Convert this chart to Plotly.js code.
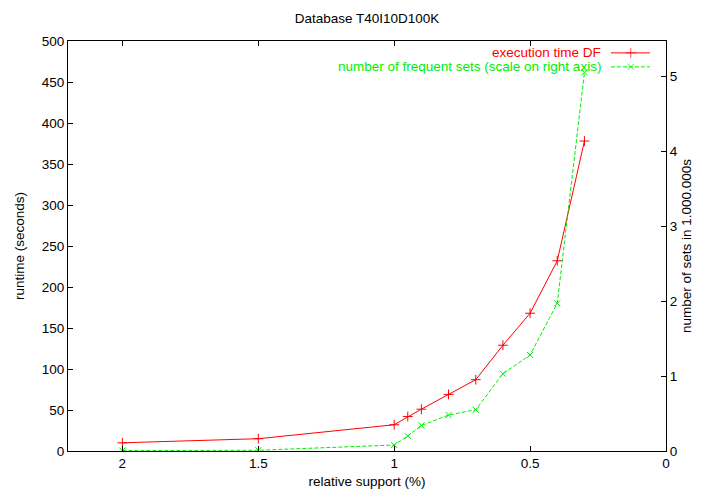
<!DOCTYPE html>
<html>
<head>
<meta charset="utf-8">
<script src="https://cdn.plot.ly/plotly-3.0.1.min.js"></script>
<style>html,body{margin:0;padding:0;background:#fff;}#chart{width:703px;height:494px;}</style>
</head>
<body>
<div id="chart"></div>
<script>
// Data
const support = [2, 1.5, 1, 0.95, 0.9, 0.8, 0.7, 0.6, 0.5, 0.4, 0.3];
const runtimeDF = [10, 15, 32, 42, 51, 69, 87, 129, 168, 232, 378];
const frequentSets = [0.005, 0.01, 0.08, 0.2, 0.34, 0.48, 0.55, 1.03, 1.28, 1.97, 5.05];
const seriesNames = ["execution time DF", "number of frequent sets (scale on right axis)"];
const xTicks = [2, 1.5, 1, 0.5, 0];
const yTicks = [0, 50, 100, 150, 200, 250, 300, 350, 400, 450, 500];
const y2Ticks = [0, 1, 2, 3, 4, 5];

// legend sample (styling) positions in the hidden overlay axes
const legendSampleX = [0.908, 0.941, 0.973];

const FONT = "Liberation Sans, Arial, Helvetica, sans-serif";
const FS = 13.5;
const RED = "#ff0000";
const GREEN = "#00ee00";

const traces = [
  {x: support, y: runtimeDF, xaxis: "x", yaxis: "y", mode: "lines+markers",
   line: {color: RED, width: 1}, marker: {symbol: "cross-thin-open", size: 7, line: {color: RED, width: 1}},
   showlegend: false, name: seriesNames[0]},
  {x: support, y: frequentSets, xaxis: "x", yaxis: "y2", mode: "lines+markers",
   line: {color: GREEN, width: 1, dash: "4px,2px"}, marker: {symbol: "x-thin-open", size: 6, line: {color: GREEN, width: 1}},
   showlegend: false, name: seriesNames[1]},
  // legend samples
  {x: legendSampleX, y: [0.971, 0.971, 0.971], xaxis: "x2", yaxis: "y3", mode: "lines+markers",
   line: {color: RED, width: 1}, marker: {symbol: "cross-thin-open", size: [0, 7, 0], line: {color: RED, width: 1}},
   showlegend: false, hoverinfo: "skip"},
  {x: legendSampleX, y: [0.937, 0.937, 0.937], xaxis: "x2", yaxis: "y3", mode: "lines+markers",
   line: {color: GREEN, width: 1, dash: "4px,2px"}, marker: {symbol: "x-thin-open", size: [0, 6, 0], line: {color: GREEN, width: 1}},
   showlegend: false, hoverinfo: "skip"}
];

const layout = {
  width: 703, height: 494,
  margin: {l: 68, r: 37, t: 41, b: 43},
  paper_bgcolor: "#fff", plot_bgcolor: "#fff",
  font: {family: FONT, size: FS, color: "#000"},
  showlegend: false,
  title: {text: "Database T40I10D100K", font: {family: FONT, size: FS, color: "#000"},
          xref: "paper", x: 0.5, xanchor: "center", yref: "container", y: 1 - 18/494, yanchor: "middle"},
  xaxis: {range: [2.2, 0], tickvals: xTicks, ticktext: xTicks.map(String),
          showgrid: false, zeroline: false, showline: true, linecolor: "#000", linewidth: 1,
          mirror: "ticks", ticks: "inside", ticklen: 5, tickcolor: "#000",
          title: {text: "relative support (%)", font: {family: FONT, size: FS}, standoff: 6},
          automargin: false},
  yaxis: {range: [0, 500], tickvals: yTicks, showgrid: false, zeroline: false,
          showline: true, linecolor: "#000", linewidth: 1, ticks: "inside", ticklen: 5, tickcolor: "#000",
          title: {text: "runtime (seconds)", font: {family: FONT, size: FS}, standoff: 14},
          automargin: false},
  yaxis2: {range: [0, 500/91.46], tickvals: y2Ticks, overlaying: "y", side: "right",
           showgrid: false, zeroline: false, showline: true, linecolor: "#000", linewidth: 1,
           ticks: "inside", ticklen: 5, tickcolor: "#000",
           title: {text: "number of sets in 1.000.000s", font: {family: FONT, size: FS}, standoff: 4},
           automargin: false},
  xaxis2: {range: [0, 1], overlaying: "x", visible: false, fixedrange: true},
  yaxis3: {range: [0, 1], overlaying: "y", visible: false, fixedrange: true},
  annotations: [
    {xref: "x2", yref: "y3", x: 0.895, y: 0.971, xanchor: "right", yanchor: "middle",
     text: seriesNames[0], showarrow: false, font: {family: FONT, size: FS, color: RED}},
    {xref: "x2", yref: "y3", x: 0.895, y: 0.937, xanchor: "right", yanchor: "middle",
     text: seriesNames[1], showarrow: false, font: {family: FONT, size: FS, color: GREEN}}
  ]
};

Plotly.newPlot("chart", traces, layout, {displayModeBar: false, staticPlot: true});
</script>
</body>
</html>
